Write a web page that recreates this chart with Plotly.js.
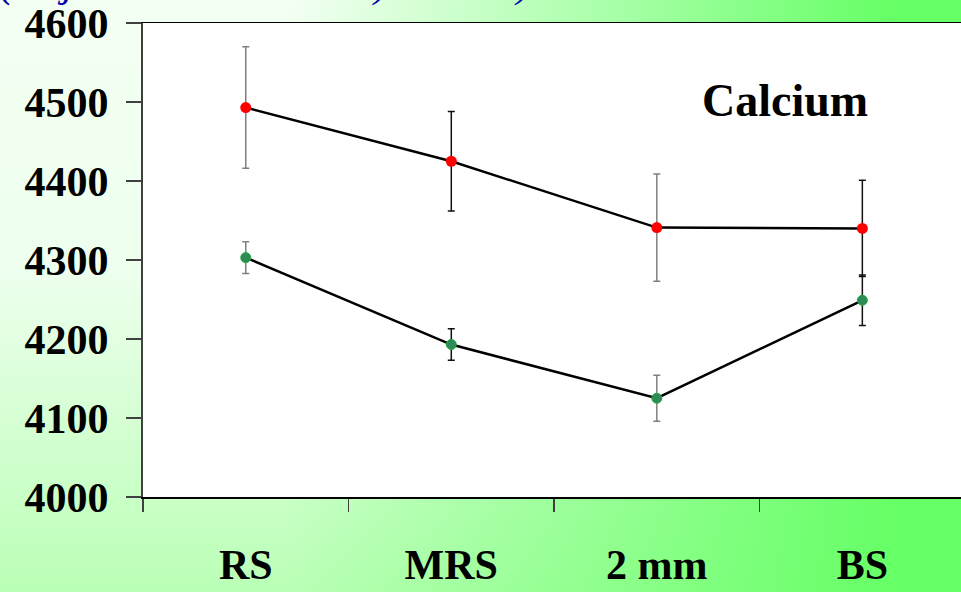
<!DOCTYPE html>
<html>
<head>
<meta charset="utf-8">
<script src="https://cdn.plot.ly/plotly-3.0.1.min.js"></script>
<style>
  html, body { margin: 0; padding: 0; }
  body {
    width: 961px; height: 592px; overflow: hidden;
    background:
      linear-gradient(to right, rgba(102,255,102,0) 30%, rgba(102,255,102,0.5) 62%, rgba(102,255,102,1) 93%),
      linear-gradient(to bottom, #F3FFF3 0%, #EEFFEE 45%, #BAFFB6 100%);
  }
  #chart { width: 961px; height: 592px; }
</style>
</head>
<body>
<div id="chart"></div>
<script>
// ---- data ----
const categories = ["RS", "MRS", "2 mm", "BS"];
const upperSeries = [4493, 4425, 4341, 4340];
const upperErr    = [77, 63, 68, 61];
const lowerSeries = [4303, 4193, 4125, 4249];
const lowerErr    = [20, 20, 29, 32];
const yTicks = [4000, 4100, 4200, 4300, 4400, 4500, 4600];
const panelLabel = "Calcium";
const headerText = "(Adjusted mean at 10) ± 1 SE)";

// error bar colour per category (style)
const errColour = ["#808080", "#111111", "#808080", "#111111"];

const FONT = "'Liberation Serif', 'Times New Roman', Times, serif";

function errTraces(y, err) {
  const groups = {};
  categories.forEach((c, i) => {
    const col = errColour[i];
    if (!groups[col]) groups[col] = { x: [], y: [], e: [] };
    groups[col].x.push(c); groups[col].y.push(y[i]); groups[col].e.push(err[i]);
  });
  return Object.keys(groups).map(col => ({
    type: "scatter", mode: "markers",
    x: groups[col].x, y: groups[col].y,
    marker: { size: 1, opacity: 0 },
    error_y: { type: "data", array: groups[col].e, visible: true, color: col, thickness: 1.5, width: 3.5 },
    hoverinfo: "skip", showlegend: false, cliponaxis: false
  }));
}

const traces = [
  ...errTraces(upperSeries, upperErr),
  ...errTraces(lowerSeries, lowerErr),
  {
    type: "scatter", mode: "lines+markers", x: categories, y: upperSeries,
    line: { color: "#000000", width: 2.5 },
    marker: { color: "#FF0000", size: 11, line: { color: "#FF0000", width: 0 } },
    showlegend: false, cliponaxis: false
  },
  {
    type: "scatter", mode: "lines+markers", x: categories, y: lowerSeries,
    line: { color: "#000000", width: 2.5 },
    marker: { color: "#2E8B57", size: 10, line: { color: "#1FA83A", width: 1 } },
    showlegend: false, cliponaxis: false
  }
];

const layout = {
  width: 961, height: 592, autosize: false,
  margin: { l: 143, r: 0, t: 23, b: 95, pad: 0 },
  paper_bgcolor: "rgba(0,0,0,0)",
  plot_bgcolor: "#FFFFFF",
  showlegend: false,
  font: { family: FONT, color: "#000000" },
  xaxis: {
    type: "category",
    categoryorder: "array",
    categoryarray: categories,
    range: [-0.5, 3.48],
    tickson: "boundaries",
    ticks: "outside", ticklen: 13, tickwidth: 1.5, tickcolor: "#404040",
    showline: true, linecolor: "#000000", linewidth: 1.5, mirror: true,
    showgrid: false, zeroline: false,
    tickfont: { family: FONT, size: 42, color: "#000000", weight: "bold" },
    ticklabelstandoff: 30,
    fixedrange: true
  },
  yaxis: {
    range: [4000, 4600],
    tickvals: yTicks,
    ticktext: yTicks.map(String),
    ticks: "outside", ticklen: 15, tickwidth: 1.5, tickcolor: "#404040",
    showline: true, linecolor: "#404040", linewidth: 2,
    showgrid: false, zeroline: false,
    tickfont: { family: FONT, size: 42, color: "#000000", weight: "bold" },
    ticklabelstandoff: 9,
    fixedrange: true
  },
  annotations: [
    {
      text: panelLabel, xref: "paper", yref: "paper",
      x: (785 - 143) / 818, y: (497 - 100) / 474,
      xanchor: "center", yanchor: "middle", showarrow: false,
      font: { family: FONT, size: 46, color: "#000000", weight: "bold" }
    },
    {
      text: headerText, xref: "paper", yref: "paper",
      x: 0, y: 1, xanchor: "left", yanchor: "bottom",
      xshift: -146, yshift: 15, showarrow: false,
      font: { family: FONT, size: 44, color: "#0000AA", style: "italic" }
    }
  ]
};

Plotly.newPlot("chart", traces, layout, { displayModeBar: false, staticPlot: true });
</script>
</body>
</html>
